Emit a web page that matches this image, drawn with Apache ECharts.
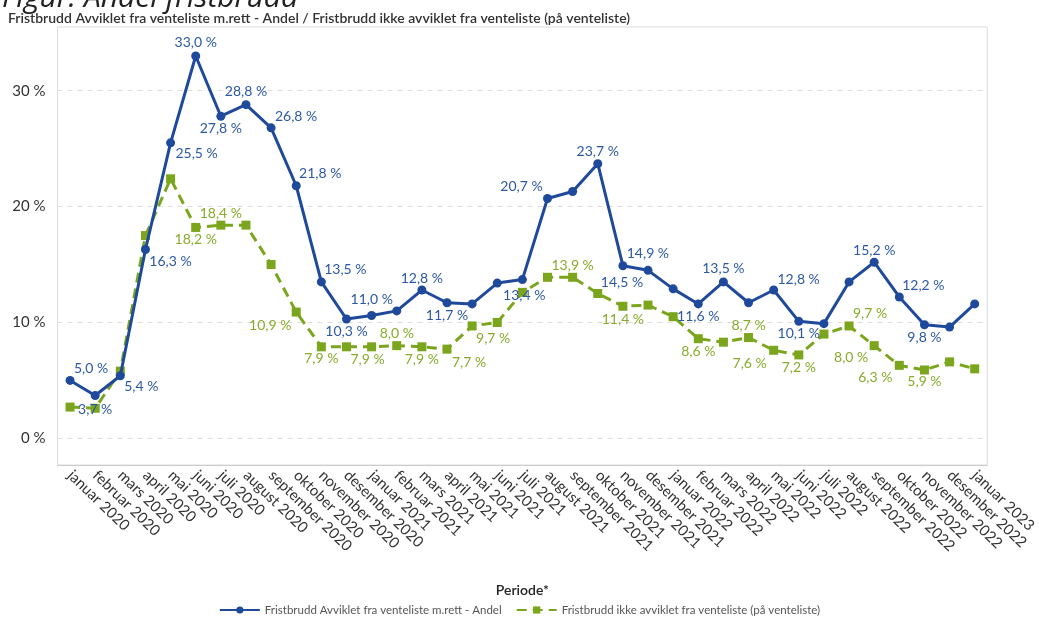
<!DOCTYPE html>
<html>
<head>
<meta charset="utf-8">
<script src="https://cdn.jsdelivr.net/npm/echarts@6/dist/echarts.min.js"></script>
<style>
html,body{margin:0;padding:0;background:#fff;}
#chart{width:1039px;height:621px;}
</style>
</head>
<body>
<div id="chart"></div>
<script>
// ---- data ----
var categories = [
  'januar 2020','februar 2020','mars 2020','april 2020','mai 2020','juni 2020','juli 2020','august 2020','september 2020','oktober 2020','november 2020','desember 2020',
  'januar 2021','februar 2021','mars 2021','april 2021','mai 2021','juni 2021','juli 2021','august 2021','september 2021','oktober 2021','november 2021','desember 2021',
  'januar 2022','februar 2022','mars 2022','april 2022','mai 2022','juni 2022','juli 2022','august 2022','september 2022','oktober 2022','november 2022','desember 2022',
  'januar 2023'
];
var avvikletAndel = [5.0, 3.7, 5.4, 16.3, 25.5, 33.0, 27.8, 28.8, 26.8, 21.8, 13.5, 10.3,
  10.6, 11.0, 12.8, 11.7, 11.6, 13.4, 13.7, 20.7, 21.3, 23.7, 14.9, 14.5,
  12.9, 11.6, 13.5, 11.7, 12.8, 10.1, 9.9, 13.5, 15.2, 12.2, 9.8, 9.6,
  11.6];
var ikkeAvviklet = [2.7, 2.6, 5.8, 17.5, 22.4, 18.2, 18.4, 18.4, 15.0, 10.9, 7.9, 7.9,
  7.9, 8.0, 7.9, 7.7, 9.7, 10.0, 12.6, 13.9, 13.9, 12.5, 11.4, 11.5,
  10.5, 8.6, 8.3, 8.7, 7.6, 7.2, 9.0, 9.7, 8.0, 6.3, 5.9, 6.6,
  6.0];
var yTicks = [0, 10, 20, 30];
var seriesNames = ['Fristbrudd Avviklet fra venteliste m.rett - Andel', 'Fristbrudd ikke avviklet fra venteliste (på venteliste)'];

// ---- label placement (style only: index -> offset of label from point) ----
var blueLabelOffsets = {
  0:[21,-12], 1:[0,14], 2:[21,11], 3:[25,12], 4:[26,11], 5:[0,-13], 6:[0,12], 7:[0,-13],
  8:[25,-11], 9:[24,-12], 10:[24,-12], 11:[0,12], 13:[-25,-11], 14:[0,-12], 15:[0,13],
  17:[27,12], 19:[-26,-12], 21:[0,-12], 22:[25,-12], 23:[-26,12], 25:[0,13], 26:[0,-13],
  28:[25,-11], 29:[0,12], 32:[0,-12], 33:[24,-11], 34:[0,13]
};
var greenLabelOffsets = {
  5:[0,12], 6:[0,-12], 9:[-26,13], 10:[0,12], 12:[-4,13], 13:[0,-12], 14:[0,13], 15:[22,13],
  16:[21,13], 20:[0,-12], 22:[0,13], 25:[0,13], 27:[0,-12], 28:[-24,13], 29:[0,13],
  31:[21,-12], 32:[-23,12], 33:[-24,12], 34:[0,12]
};

var BLUE = '#1f4a9c', BLUE_TXT = '#2c58a6';
var GREEN = '#7aa51c', GREEN_TXT = '#86ac2a';
var FONT = 'Lato';

function fmt(v){ return v.toFixed(1).replace('.', ',') + ' %'; }
function buildData(values, offsets, color){
  return values.map(function(v, i){
    var o = offsets[i];
    var d = { value: v };
    if (o) {
      d.label = { show: true, position: 'inside', offset: o, color: color,
        fontFamily: FONT, fontSize: 14, formatter: function(p){ return fmt(p.value); } };
    }
    return d;
  });
}

var chart = echarts.init(document.getElementById('chart'), null, { renderer: 'canvas' });
chart.setOption({
  animation: false,
  backgroundColor: '#fff',
  graphic: [
    { type: 'text', left: 2, top: -17, style: { text: 'Figur: Andel fristbrudd', font: 'italic 30px "Open Sans"', fill: '#222' } },
    { type: 'text', left: 8, top: 11, style: { text: 'Fristbrudd Avviklet fra venteliste m.rett - Andel / Fristbrudd ikke avviklet fra venteliste (på venteliste)', font: '600 14px Lato', fill: '#333' } }
  ],
  grid: { left: 57.5, right: 41.5, top: 27, bottom: 156, show: true, borderColor: '#ddd', borderWidth: 1, containLabel: false },
  legend: {
    bottom: 0, left: 'center', itemWidth: 40, itemHeight: 9, itemGap: 14,
    textStyle: { fontFamily: FONT, fontSize: 11.5, color: '#555' },
    data: seriesNames
  },
  xAxis: {
    type: 'category', data: categories, boundaryGap: true,
    name: 'Periode*', nameLocation: 'middle', nameGap: 118,
    nameTextStyle: { fontFamily: FONT, fontSize: 14, fontWeight: 600, color: '#222' },
    axisLine: { onZero: false, lineStyle: { color: '#ccc' } },
    axisTick: { alignWithLabel: true, length: 6, lineStyle: { color: '#ccc' } },
    axisLabel: { interval: 0, rotate: -44, fontFamily: FONT, fontSize: 15, color: '#333', margin: 8 }
  },
  yAxis: {
    type: 'value', min: -2.3, max: 35.5,
    axisLine: { show: false }, axisTick: { show: false, customValues: yTicks },
    axisLabel: { customValues: yTicks, fontFamily: FONT, fontSize: 15, color: '#333', margin: 12,
      formatter: function(v){ return v + ' %'; } },
    splitLine: { show: true, lineStyle: { color: '#ddd', type: [5, 5] } }
  },
  series: [
    {
      name: seriesNames[0], type: 'line', data: buildData(avvikletAndel, blueLabelOffsets, BLUE_TXT),
      symbol: 'circle', symbolSize: 9, z: 3,
      lineStyle: { color: BLUE, width: 3 }, itemStyle: { color: BLUE },
      label: { show: false }
    },
    {
      name: seriesNames[1], type: 'line', data: buildData(ikkeAvviklet, greenLabelOffsets, GREEN_TXT),
      symbol: 'rect', symbolSize: 9, z: 2,
      lineStyle: { color: GREEN, width: 3, type: [10, 6] }, itemStyle: { color: GREEN },
      label: { show: false }
    }
  ]
});
</script>
</body>
</html>
